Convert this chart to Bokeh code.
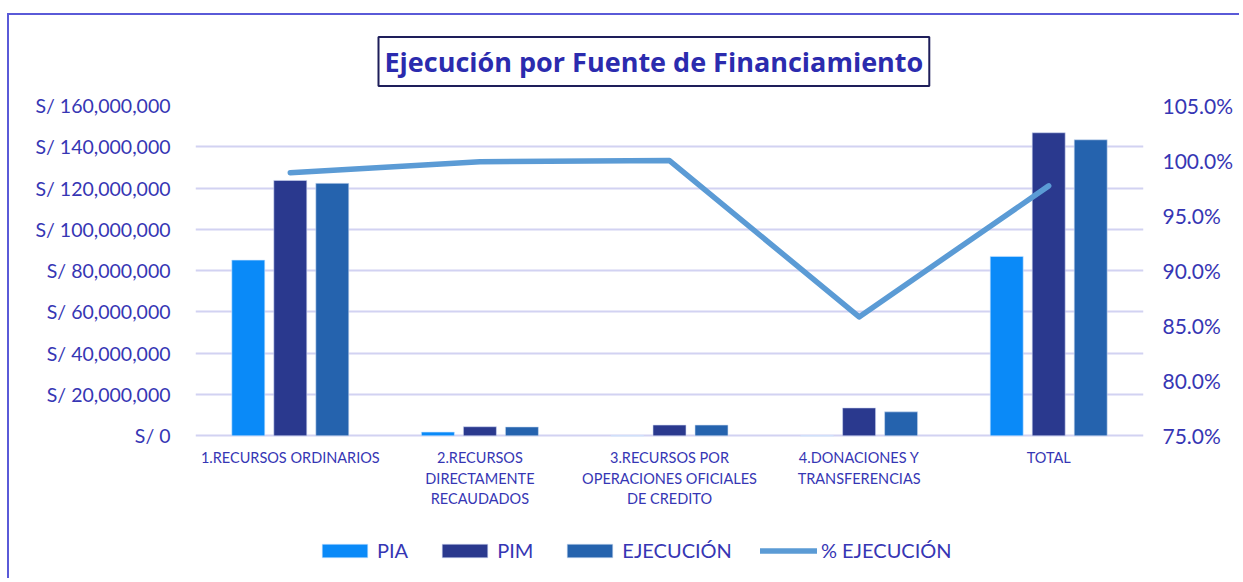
from bokeh.plotting import figure
from bokeh.models import (Range1d, LinearAxis, FixedTicker, NumeralTickFormatter,
                          Legend, LegendItem, ColumnDataSource, Label)
from bokeh.embed import file_html
from bokeh.resources import INLINE

# ---- data ----
categories = ["1.RECURSOS ORDINARIOS",
              "2.RECURSOS\nDIRECTAMENTE\nRECAUDADOS",
              "3.RECURSOS POR\nOPERACIONES OFICIALES\nDE CREDITO",
              "4.DONACIONES Y\nTRANSFERENCIAS",
              "TOTAL"]
pia = [85100000, 1800000, 0, 0, 86900000]
pim = [123700000, 4400000, 5200000, 13500000, 146800000]
ejecucion = [122300000, 4300000, 5200000, 11600000, 143400000]
pct_ejecucion = [0.989, 0.999, 1.000, 0.858, 0.977]
left_ticks = [0, 20000000, 40000000, 60000000, 80000000, 100000000,
              120000000, 140000000, 160000000]
right_ticks = [0.75, 0.80, 0.85, 0.90, 0.95, 1.00, 1.05]
series_names = ["PIA", "PIM", "EJECUCIÓN", "% EJECUCIÓN"]
title_text = "Ejecución por Fuente de Financiamiento"

FONT = "Lato"
TXT = "#3636B4"
C_PIA = "#0A8AF8"
C_PIM = "#2A398E"
C_EJE = "#2563AE"
C_LINE = "#5B9BD5"
GRID = "#D2D2F2"

# layout constants (pixels)
W, H = 1232, 565
TOP = 89          # frame top inside canvas
PLOT_PX = 331     # pixel height of the value area (0 .. max)
BELOW_PX = H - TOP - PLOT_PX   # room under the baseline for labels / legend

y_max = 160000000
y_min = -y_max * BELOW_PX / PLOT_PX
r_lo, r_hi = 0.75, 1.05
r_min = r_lo - (r_hi - r_lo) * BELOW_PX / PLOT_PX

p = figure(width=W, height=H, output_backend="svg", toolbar_location=None,
           x_range=Range1d(0, 5), y_range=Range1d(y_min, y_max),
           min_border_left=186, min_border_right=98,
           min_border_top=TOP, min_border_bottom=0,
           title=title_text)
p.margin = (13, 0, 0, 7)
p.styles = {"border-left": "2px solid #5A5AD8", "border-top": "2px solid #5A5AD8"}
p.outline_line_color = None
p.background_fill_color = "white"
p.border_fill_color = "white"

p.title.align = "left"
p.title.offset = 183
p.title.text_font = "Open Sans"
p.title.text_font_size = "27px"
p.title.text_font_style = "bold"
p.title.text_color = "#2B2BAE"
p.title.border_line_color = "#1E1E5A"
p.title.border_line_width = 2
p.title.background_fill_color = "white"
p.title.padding = 6
p.title.standoff = 39

n = len(categories)
centers = [i + 0.5 for i in range(n)]
off = 0.2215
bw = 0.174
src = ColumnDataSource(dict(
    x_pia=[c - off for c in centers], x_pim=centers,
    x_eje=[c + off for c in centers], x=centers,
    pia=pia, pim=pim, eje=ejecucion, pct=pct_ejecucion))

r_pia = p.vbar(x="x_pia", top="pia", width=bw, source=src, fill_color=C_PIA,
               line_color="#CFE6FF", line_width=0.6)
r_pim = p.vbar(x="x_pim", top="pim", width=bw, source=src, fill_color=C_PIM,
               line_color="#CFD6F2", line_width=0.6)
r_eje = p.vbar(x="x_eje", top="eje", width=bw, source=src, fill_color=C_EJE,
               line_color="#CFDDF2", line_width=0.6)

p.extra_y_ranges = {"pct": Range1d(r_min, r_hi)}
r_line = p.line(x="x", y="pct", source=src, y_range_name="pct",
                line_color=C_LINE, line_width=5.5, line_cap="round", line_join="round")

# category labels (inside the frame, under the baseline)
px = y_max / PLOT_PX
for i, cat in enumerate(categories):
    for j, line in enumerate(cat.split("\n")):
        p.add_layout(Label(x=centers[i], y=-(22 + 20.5 * j) * px, text=line,
                           text_align="center", text_baseline="middle",
                           text_font=FONT, text_font_size="14.5px", text_color=TXT))

p.xaxis.visible = False

p.yaxis.ticker = FixedTicker(ticks=left_ticks)
p.yaxis.major_label_overrides = {v: ("S/ 0" if v == 0 else f"S/ {v:,}") for v in left_ticks}
p.yaxis.axis_line_color = None
p.yaxis.major_tick_line_color = None
p.yaxis.minor_tick_line_color = None
p.yaxis.major_label_text_font = FONT
p.yaxis.major_label_text_font_size = "19.5px"
p.yaxis.major_label_text_color = TXT
p.yaxis.major_label_standoff = 19

ax_r = LinearAxis(y_range_name="pct", ticker=FixedTicker(ticks=right_ticks),
                  formatter=NumeralTickFormatter(format="0.0%"))
ax_r.axis_line_color = None
ax_r.major_tick_line_color = None
ax_r.minor_tick_line_color = None
ax_r.major_label_text_font = FONT
ax_r.major_label_text_font_size = "21px"
ax_r.major_label_text_color = TXT
ax_r.major_label_standoff = 13
p.add_layout(ax_r, "right")

p.xgrid.visible = False
p.ygrid.ticker = FixedTicker(ticks=left_ticks)
p.ygrid.grid_line_color = GRID
p.ygrid.grid_line_width = 2

legend = Legend(items=[
    LegendItem(label=series_names[0], renderers=[r_pia]),
    LegendItem(label=series_names[1], renderers=[r_pim]),
    LegendItem(label=series_names[2], renderers=[r_eje]),
    LegendItem(label=series_names[3], renderers=[r_line]),
], orientation="horizontal", location=(121, 18))
legend.glyph_width = 57
legend.glyph_height = 17
legend.label_text_font = FONT
legend.label_text_font_size = "20px"
legend.label_text_color = TXT
legend.label_standoff = 4
legend.spacing = 28
legend.padding = 0
legend.margin = 0
legend.border_line_color = None
legend.background_fill_alpha = 0
p.add_layout(legend)

open("out.html", "w").write(file_html(p, INLINE))
